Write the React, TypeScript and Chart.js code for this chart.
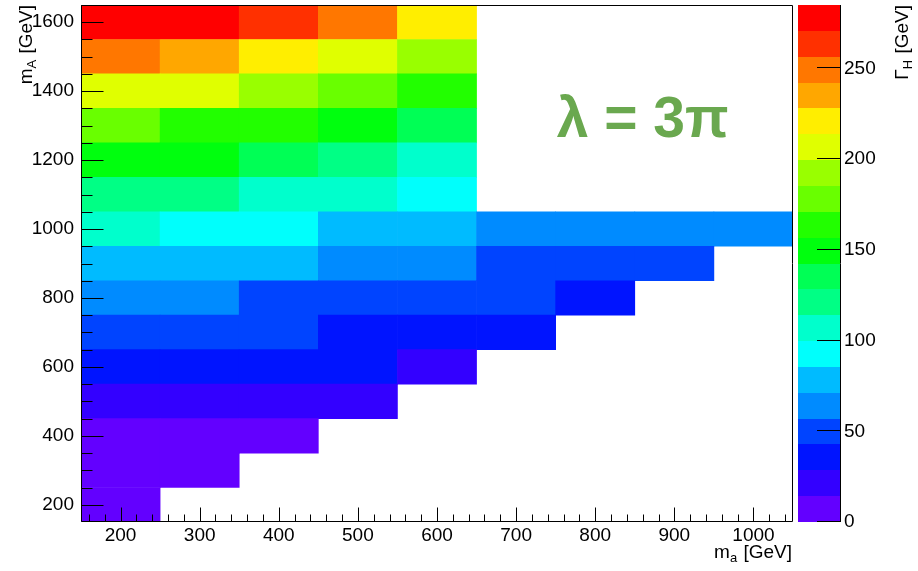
import React, { useEffect, useRef } from "react";
import { Chart, registerables } from "chart.js";

Chart.register(...registerables);

// ---------------- data ----------------
// bin centres of the 2D histogram [GeV]
const ma = [200, 300, 400, 500, 600, 700, 800, 900, 1000];
const mA = [200, 300, 400, 500, 600, 700, 800, 900, 1000, 1100, 1200, 1300, 1400, 1500, 1600];

// Gamma_H [GeV] for each m_A row, listed along m_a starting at 200 GeV
const gammaH_mA200 = [4];
const gammaH_mA300 = [8, 6];
const gammaH_mA400 = [13, 11, 9];
const gammaH_mA500 = [27, 24, 21, 18];
const gammaH_mA600 = [41, 38, 35, 31, 26];
const gammaH_mA700 = [54, 50, 46, 41, 38, 35];
const gammaH_mA800 = [67, 62, 55, 52, 49, 46, 41];
const gammaH_mA900 = [84, 80, 75, 69, 64, 56, 52, 49];
const gammaH_mA1000 = [103, 96, 91, 81, 76, 69, 66, 63, 61];
const gammaH_mA1100 = [124, 119, 109, 104, 93];
const gammaH_mA1200 = [150, 146, 135, 121, 107];
const gammaH_mA1300 = [178, 166, 160, 150, 136];
const gammaH_mA1400 = [207, 202, 190, 177, 163];
const gammaH_mA1500 = [246, 235, 220, 206, 192];
const gammaH_mA1600 = [285, 276, 263, 249, 221];

const gammaRows = [
  gammaH_mA200, gammaH_mA300, gammaH_mA400, gammaH_mA500, gammaH_mA600,
  gammaH_mA700, gammaH_mA800, gammaH_mA900, gammaH_mA1000, gammaH_mA1100,
  gammaH_mA1200, gammaH_mA1300, gammaH_mA1400, gammaH_mA1500, gammaH_mA1600,
];

// axes
const maRange = [150, 1050];
const mARange = [150, 1650];
const gammaMax = 285;
const maTicks = [200, 300, 400, 500, 600, 700, 800, 900, 1000];
const mATicks = [200, 400, 600, 800, 1000, 1200, 1400, 1600];
const gammaTicks = [0, 50, 100, 150, 200, 250];
const maMinorStep = 20;
const mAMinorStep = 50;

// ROOT "pretty" palette sampled at 20 contour levels (low -> high)
const palette = [
  "#6300FF", "#3300FF", "#0014FF", "#0044FF", "#008BFF",
  "#00BBFF", "#00FFFC", "#00FFCC", "#00FF85", "#00FF55",
  "#00FF0E", "#22FF00", "#69FF00", "#99FF00", "#E0FF00",
  "#FFEE00", "#FFA700", "#FF7700", "#FF3000", "#FF0000",
];

const annotationText = "λ = 3π";
const annotationAt = { ma: 860, mA: 1267 };

// ---------------- helpers ----------------
const FONT = "'Liberation Sans', Arial, Helvetica, sans-serif";

function colorFor(v: number): string {
  const n = palette.length;
  const i = Math.min(n - 1, Math.max(0, Math.floor((v / gammaMax) * n)));
  return palette[i];
}

type Seg = { t: string; sub?: boolean };

function segsWidth(ctx: CanvasRenderingContext2D, segs: Seg[], size: number) {
  let w = 0;
  for (const s of segs) {
    ctx.font = `${s.sub ? Math.round(size * 0.7) : size}px ${FONT}`;
    w += ctx.measureText(s.t).width + (s.sub ? 1 : 0);
  }
  return w;
}

function drawSegs(ctx: CanvasRenderingContext2D, segs: Seg[], size: number) {
  let x = 0;
  ctx.textBaseline = "alphabetic";
  ctx.textAlign = "left";
  for (const s of segs) {
    ctx.font = `${s.sub ? Math.round(size * 0.7) : size}px ${FONT}`;
    ctx.fillText(s.t, x, s.sub ? Math.round(size * 0.22) : 0);
    x += ctx.measureText(s.t).width + (s.sub ? 1 : 0);
  }
}

const rootStyle = {
  id: "rootStyle",
  afterDraw(chart: any) {
    const ctx: CanvasRenderingContext2D = chart.ctx;
    const { left, right, top, bottom } = chart.chartArea;
    const xs = chart.scales.x;
    const ys = chart.scales.y;
    const zs = chart.scales.z;
    ctx.save();

    // ---- colour bar ----
    const cbL = Math.round(right) + 5;
    const cbR = Math.round(right) + 47;
    const n = palette.length;
    for (let i = 0; i < n; i++) {
      const yLo = Math.round(zs.getPixelForValue((i * gammaMax) / n));
      const yHi = Math.round(zs.getPixelForValue(((i + 1) * gammaMax) / n));
      ctx.fillStyle = palette[i];
      ctx.fillRect(cbL, yHi, cbR - cbL, yLo - yHi);
    }
    ctx.strokeStyle = "#000";
    ctx.lineWidth = 1;
    ctx.beginPath();
    ctx.moveTo(cbR + 0.5, Math.round(top));
    ctx.lineTo(cbR + 0.5, Math.round(bottom));
    for (const t of gammaTicks) {
      const py = Math.round(zs.getPixelForValue(t)) - 0.5;
      ctx.moveTo(cbR + 0.5, py);
      ctx.lineTo(cbR - 23, py);
    }
    ctx.stroke();

    // ---- frame ----
    ctx.beginPath();
    ctx.rect(Math.round(left) + 0.5, Math.round(top) + 0.5, Math.round(right - left) - 1, Math.round(bottom - top) - 1);
    ctx.stroke();

    // ---- x ticks (inside, from bottom) ----
    ctx.beginPath();
    const by = Math.round(bottom) - 0.5;
    for (let v = maRange[0] + maMinorStep / 2; v < maRange[1]; v += maMinorStep) {
      const isMajor = maTicks.includes(v);
      const px = Math.round(xs.getPixelForValue(v)) + 0.5;
      ctx.moveTo(px, by);
      ctx.lineTo(px, by - (isMajor ? 14 : 7));
    }
    // ---- y ticks (inside, from left) ----
    const lx = Math.round(left) + 0.5;
    for (let v = mARange[0] + mAMinorStep; v <= mARange[1]; v += mAMinorStep) {
      const isMajor = mATicks.includes(v);
      const py = Math.round(ys.getPixelForValue(v)) + 0.5;
      ctx.moveTo(lx, py);
      ctx.lineTo(lx + (isMajor ? 22 : 11), py);
    }
    ctx.stroke();

    // ---- titles ----
    ctx.fillStyle = "#000";
    const size = 19;
    // x title, right aligned with frame
    const xSegs: Seg[] = [{ t: "m" }, { t: "a", sub: true }, { t: " [GeV]" }];
    const xw = segsWidth(ctx, xSegs, size);
    ctx.save();
    ctx.translate(Math.round(right) - 1 - xw, 558);
    drawSegs(ctx, xSegs, size);
    ctx.restore();

    // y title, rotated, ending at top
    const ySegs: Seg[] = [{ t: "m" }, { t: "A", sub: true }, { t: " [GeV]" }];
    const yw = segsWidth(ctx, ySegs, size);
    ctx.save();
    ctx.translate(32, Math.round(top) + yw);
    ctx.rotate(-Math.PI / 2);
    drawSegs(ctx, ySegs, size);
    ctx.restore();

    // z title
    const zSegs: Seg[] = [{ t: "Γ" }, { t: "H", sub: true }, { t: " [GeV]" }];
    const zw = segsWidth(ctx, zSegs, size);
    ctx.save();
    ctx.translate(908, Math.round(top) + zw);
    ctx.rotate(-Math.PI / 2);
    drawSegs(ctx, zSegs, size);
    ctx.restore();

    // ---- annotation ----
    ctx.font = `bold 57px ${FONT}`;
    ctx.fillStyle = "#6AA84F";
    ctx.textAlign = "center";
    ctx.textBaseline = "alphabetic";
    ctx.fillText(annotationText, xs.getPixelForValue(annotationAt.ma), ys.getPixelForValue(annotationAt.mA));

    ctx.restore();
  },
};

export default function App() {
  const ref = useRef<HTMLCanvasElement>(null);

  useEffect(() => {
    const canvas = ref.current;
    if (!canvas) return;
    const half = (mA[1] - mA[0]) / 2;
    const datasets = gammaRows.map((vals, r) => ({
      type: "bar" as const,
      label: `mA ${mA[r]}`,
      data: vals.map((v, i) => ({ x: ma[i], y: [mA[r] - half, mA[r] + half] })),
      backgroundColor: vals.map(colorFor),
      borderWidth: 0,
      grouped: false,
      barPercentage: 1,
      categoryPercentage: 1,
    }));

    const tickFont = { family: FONT, size: 19 };

    const chart = new Chart(canvas, {
      type: "bar",
      data: { datasets: datasets as any },
      options: {
        animation: false,
        responsive: false,
        devicePixelRatio: 1,
        events: [],
        layout: { padding: { top: 5, left: 0, right: 0, bottom: 0 } },
        plugins: { legend: { display: false }, tooltip: { enabled: false } },
        scales: {
          x: {
            type: "linear",
            position: "bottom",
            min: maRange[0],
            max: maRange[1],
            offset: false,
            grid: { display: false, drawTicks: false },
            border: { display: false },
            afterBuildTicks: (s: any) => {
              s.ticks = maTicks.map((v) => ({ value: v }));
            },
            afterFit: (s: any) => {
              s.height = 49;
              s.paddingLeft = 0;
              s.paddingRight = 0;
            },
            ticks: {
              autoSkip: false,
              maxRotation: 0,
              padding: 2,
              color: "#000",
              font: tickFont,
              callback: (v: any) => String(v),
            },
          },
          y: {
            type: "linear",
            position: "left",
            min: mARange[0],
            max: mARange[1],
            beginAtZero: false,
            grid: { display: false, drawTicks: false },
            border: { display: false },
            afterBuildTicks: (s: any) => {
              s.ticks = mATicks.map((v) => ({ value: v }));
            },
            afterFit: (s: any) => {
              s.width = 81;
              s.paddingTop = 0;
              s.paddingBottom = 0;
            },
            ticks: {
              padding: 7,
              color: "#000",
              font: tickFont,
              callback: (v: any) => String(v),
            },
          },
          z: {
            type: "linear",
            axis: "y",
            position: "right",
            min: 0,
            max: gammaMax,
            grid: { display: false, drawTicks: false },
            border: { display: false },
            afterBuildTicks: (s: any) => {
              s.ticks = gammaTicks.map((v) => ({ value: v }));
            },
            afterFit: (s: any) => {
              s.width = 125;
              s.paddingTop = 0;
              s.paddingBottom = 0;
            },
            ticks: {
              padding: 51,
              color: "#000",
              font: tickFont,
              callback: (v: any) => String(v),
            },
          },
        } as any,
      },
      plugins: [rootStyle],
    });

    return () => chart.destroy();
  }, []);

  return (
    <div style={{ position: "absolute", left: 0, top: 0, width: 918, height: 571, background: "#fff" }}>
      <canvas ref={ref} width={918} height={571} style={{ display: "block" }} />
    </div>
  );
}
